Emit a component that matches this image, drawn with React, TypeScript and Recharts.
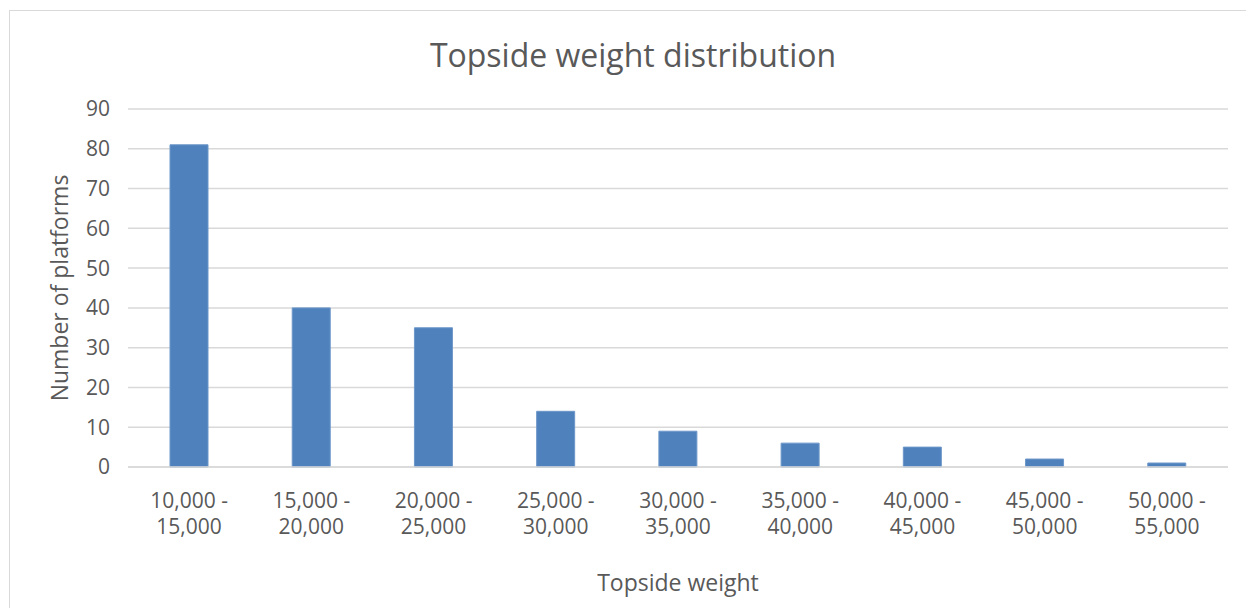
import React from "react";
import { BarChart, Bar, XAxis, YAxis, CartesianGrid, Label } from "recharts";

const categories = [
  "10,000 - 15,000",
  "15,000 - 20,000",
  "20,000 - 25,000",
  "25,000 - 30,000",
  "30,000 - 35,000",
  "35,000 - 40,000",
  "40,000 - 45,000",
  "45,000 - 50,000",
  "50,000 - 55,000",
];
const platforms = [81, 40, 35, 14, 9, 6, 5, 2, 1];
const yTicks = [0, 10, 20, 30, 40, 50, 60, 70, 80, 90];

const data = categories.map((name, i) => ({ name, count: platforms[i] }));

const FONT = "'Open Sans', sans-serif";
const TEXT = "#595959";

const TwoLineTick = (props: any) => {
  const { x, y, payload } = props;
  const parts = String(payload.value).split(" - ");
  return (
    <text x={x} y={y} textAnchor="middle" fill={TEXT} fontSize={21} fontFamily={FONT}>
      <tspan x={x} dy={33}>{parts[0] + " -"}</tspan>
      <tspan x={x} dy={26}>{parts[1]}</tspan>
    </text>
  );
};

const App: React.FC = () => {
  return (
    <div
      style={{
        position: "relative",
        marginLeft: 1,
        marginTop: 2,
        width: 1250,
        height: 610,
        border: "1px solid #d9d9d9",
        background: "#fff",
        fontFamily: FONT,
      }}
    >
      <div
        style={{
          position: "absolute",
          top: 22,
          left: 0,
          width: 1246,
          textAlign: "center",
          fontSize: 32,
          color: TEXT,
        }}
      >
        Topside weight distribution
      </div>
      <BarChart
        width={1245}
        height={600}
        data={data}
        margin={{ top: 98, right: 27, left: 2, bottom: 0 }}
        barSize={38}
      >
        <CartesianGrid vertical={false} stroke="#d9d9d9" strokeWidth={1.5} />
        <XAxis
          dataKey="name"
          axisLine={{ stroke: "#d9d9d9", strokeWidth: 1.5 }}
          tickLine={false}
          tick={<TwoLineTick />}
          interval={0}
          height={144}
        >
          <Label
            value="Topside weight"
            position="insideBottom"
            offset={20}
            fill={TEXT}
            fontSize={23}
            fontFamily={FONT}
          />
        </XAxis>
        <YAxis
          domain={[0, 90]}
          ticks={yTicks}
          axisLine={false}
          tickLine={false}
          width={116}
          tick={{ fill: TEXT, fontSize: 21, fontFamily: FONT }}
          tickMargin={12}
        >
          <Label
            value="Number of platforms"
            angle={-90}
            position="insideLeft"
            offset={48}
            fill={TEXT}
            fontSize={23}
            fontFamily={FONT}
            style={{ textAnchor: "middle" }}
          />
        </YAxis>
        <Bar dataKey="count" fill="#4f81bd" stroke="#6d97c9" strokeWidth={1} isAnimationActive={false} />
      </BarChart>
    </div>
  );
};

export default App;
